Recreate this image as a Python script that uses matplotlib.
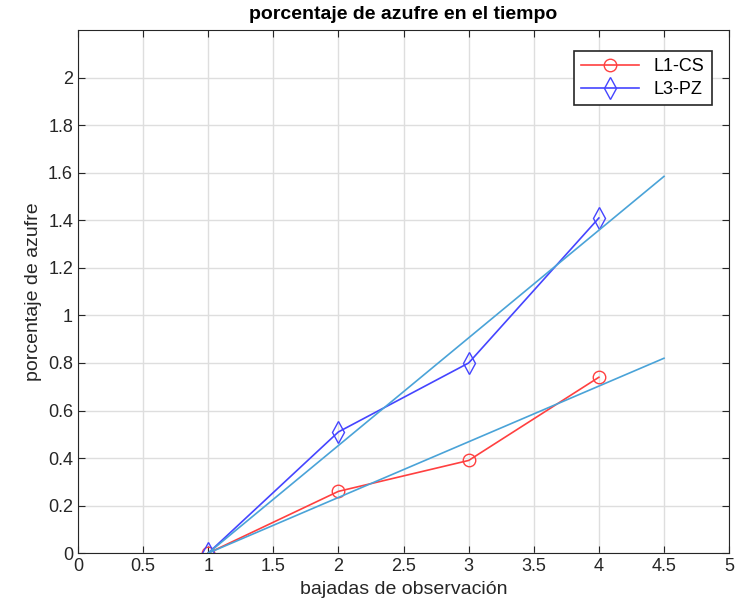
import matplotlib.pyplot as plt
from matplotlib import font_manager

# datos
bajadas = [1, 2, 3, 4]
l1_cs = [0.0, 0.26, 0.39, 0.74]
l3_pz = [0.0, 0.51, 0.80, 1.41]

# rectas de ajuste (extremos)
ajuste_x = [1, 4.5]
ajuste_l1 = [0.0, 0.82]
ajuste_l3 = [0.0, 1.585]

xticks = [0, 0.5, 1, 1.5, 2, 2.5, 3, 3.5, 4, 4.5, 5]
yticks = [0, 0.2, 0.4, 0.6, 0.8, 1, 1.2, 1.4, 1.6, 1.8, 2]

names = {f.name for f in font_manager.fontManager.ttflist}
fuente = 'Liberation Sans Narrow' if 'Liberation Sans Narrow' in names else 'Liberation Sans'
plt.rcParams['font.family'] = [fuente, 'DejaVu Sans']

fig = plt.figure(figsize=(7.35, 6.16), dpi=100)
ax = fig.add_axes([0.106, 0.102, 0.886, 0.849])

ax.plot(bajadas, l1_cs, color='#ff4040', marker='o', markersize=9,
        markerfacecolor='none', linewidth=1.2, label='L1-CS')
ax.plot(bajadas, l3_pz, color='#4545ff', marker='d', markersize=11,
        markerfacecolor='none', linewidth=1.2, label='L3-PZ')
ax.plot(ajuste_x, ajuste_l1, color='#4aa3d8', linewidth=1.2)
ax.plot(ajuste_x, ajuste_l3, color='#4aa3d8', linewidth=1.2)

ax.set_xlim(0, 5)
ax.set_ylim(0, 2.2)
ax.set_xticks(xticks)
ax.set_xticklabels([f'{t:g}' for t in xticks])
ax.set_yticks(yticks)
ax.set_yticklabels([f'{t:g}' for t in yticks])
ax.tick_params(direction='in', top=True, right=True, labelsize=13,
               colors='#262626', length=5)
ax.grid(True, color='#dedede', linewidth=1)
for s in ax.spines.values():
    s.set_color('#262626')

ax.set_xlabel('bajadas de observación', fontsize=14, color='#262626')
ax.set_ylabel('porcentaje de azufre', fontsize=14, color='#262626')
ax.set_title('porcentaje de azufre en el tiempo', fontsize=14,
             fontweight='bold', pad=8)

leg = ax.legend(loc='upper right', bbox_to_anchor=(0.987, 0.977),
                fontsize=13, fancybox=False, framealpha=1,
                edgecolor='#262626', handlelength=3.2, borderpad=0.4,
                labelspacing=0.3)
leg.get_frame().set_linewidth(1.2)

plt.savefig('out.png', dpi=100)
